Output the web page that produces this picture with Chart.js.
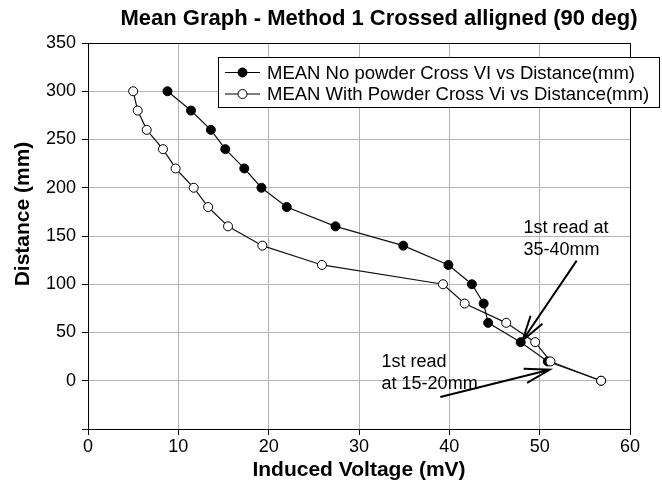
<!DOCTYPE html>
<html>
<head>
<meta charset="utf-8">
<script src="https://cdn.jsdelivr.net/npm/chart.js@4.4.1/dist/chart.umd.min.js"></script>
<style>
  html, body { margin: 0; padding: 0; background: #fff; }
  #wrap { width: 662px; height: 486px; }
</style>
</head>
<body>
<div id="wrap"><canvas id="meanChart" width="662" height="486"></canvas></div>
<script>
// Chart values
const chartTitle = 'Mean Graph - Method 1 Crossed alligned (90 deg)';
const yTitle = 'Distance (mm)';
const distanceMM = [300, 280, 260, 240, 220, 200, 180, 160, 140, 120, 100, 80, 60, 40, 20, 0];
const noPowderMV = [8.8, 11.4, 13.6, 15.2, 17.3, 19.2, 22.0, 27.4, 34.9, 39.9, 42.5, 43.8, 44.3, 47.9, 50.9, 56.8];
const withPowderMV = [5.0, 5.5, 6.5, 8.3, 9.7, 11.7, 13.3, 15.5, 19.3, 25.9, 39.3, 41.7, 46.3, 49.5, 51.2, 56.8];
const seriesLabels = ['MEAN No powder Cross VI vs Distance(mm)', 'MEAN With Powder Cross Vi vs Distance(mm)'];
const xTicks = [0, 10, 20, 30, 40, 50, 60];
const yTicks = [0, 50, 100, 150, 200, 250, 300, 350];

// Notes and arrows, in data units (mV, mm)
const noteTexts = [['1st read at', '35-40mm'], ['1st read', 'at 15-20mm']];
const noteAnchors = [[48.2, 158], [32.5, 19]];
const arrowFrom = [[54.1, 124.5], [39.0, -16.9]];
const arrowTo = [[48.1, 41.7], [51.1, 11.4]];

const FONT = "'Liberation Sans', Arial, sans-serif";

function toPoints(xs) {
    return xs.map((x, i) => ({ x: x, y: distanceMM[i] }));
}

// chart title (a bit right of centre) and the y axis title (a bit above centre)
const titlePlugin = {
    id: 'titlePlugin',
    afterDraw(chart) {
        const ctx = chart.ctx;
        ctx.save();
        ctx.fillStyle = '#000';
        ctx.textAlign = 'center';
        ctx.textBaseline = 'middle';
        ctx.font = 'bold 22px ' + FONT;
        ctx.fillText(chartTitle, 379, 19);
        ctx.translate(23, 214);
        ctx.rotate(-Math.PI / 2);
        ctx.font = 'bold 21px ' + FONT;
        ctx.fillText(yTitle, 0, 0);
        ctx.restore();
    }
};

// boxed legend in the top right corner
const legendBox = {
    id: 'legendBox',
    afterDraw(chart) {
        const ctx = chart.ctx;
        ctx.save();
        ctx.fillStyle = '#fff';
        ctx.strokeStyle = '#000';
        ctx.lineWidth = 1;
        ctx.fillRect(218.5, 57.5, 441, 50);
        ctx.strokeRect(218.5, 57.5, 441, 50);
        chart.data.datasets.forEach((ds, i) => {
            const y = 72.5 + i * 21.5;
            ctx.strokeStyle = '#000';
            ctx.lineWidth = 1.2;
            ctx.beginPath();
            ctx.moveTo(225, y);
            ctx.lineTo(260, y);
            ctx.stroke();
            ctx.beginPath();
            ctx.arc(242.5, y, 4.5, 0, Math.PI * 2);
            ctx.fillStyle = ds.pointBackgroundColor;
            ctx.fill();
            ctx.lineWidth = 1;
            ctx.stroke();
            ctx.fillStyle = '#000';
            ctx.font = '18.5px ' + FONT;
            ctx.textBaseline = 'middle';
            ctx.textAlign = 'left';
            ctx.fillText(ds.label, 267, y + 1);
        });
        ctx.restore();
    }
};

function drawArrow(ctx, x1, y1, x2, y2) {
    const ang = Math.atan2(y1 - y2, x1 - x2);
    const len = 26, spread = 16 * Math.PI / 180;
    ctx.beginPath();
    ctx.moveTo(x1, y1);
    ctx.lineTo(x2, y2);
    ctx.moveTo(x2 + len * Math.cos(ang - spread), y2 + len * Math.sin(ang - spread));
    ctx.lineTo(x2, y2);
    ctx.lineTo(x2 + len * Math.cos(ang + spread), y2 + len * Math.sin(ang + spread));
    ctx.stroke();
}

const notesPlugin = {
    id: 'notesPlugin',
    afterDatasetsDraw(chart) {
        const ctx = chart.ctx;
        const xs = chart.scales.x, ys = chart.scales.y;
        ctx.save();
        ctx.fillStyle = '#000';
        ctx.font = '18px ' + FONT;
        ctx.textAlign = 'left';
        ctx.textBaseline = 'middle';
        noteTexts.forEach((lines, i) => {
            const px = xs.getPixelForValue(noteAnchors[i][0]);
            const py = ys.getPixelForValue(noteAnchors[i][1]);
            lines.forEach((t, j) => ctx.fillText(t, px, py + j * 22));
        });
        ctx.strokeStyle = '#000';
        ctx.lineWidth = 2;
        arrowFrom.forEach((f, i) => {
            drawArrow(ctx,
                xs.getPixelForValue(f[0]), ys.getPixelForValue(f[1]),
                xs.getPixelForValue(arrowTo[i][0]), ys.getPixelForValue(arrowTo[i][1]));
        });
        ctx.restore();
    }
};

const gridGrey = '#b4b4b4';

new Chart(document.getElementById('meanChart').getContext('2d'), {
    type: 'line',
    data: {
        datasets: [{
            label: seriesLabels[0],
            data: toPoints(noPowderMV),
            borderColor: '#111',
            borderWidth: 1.2,
            pointRadius: 4.5,
            pointBackgroundColor: '#000',
            pointBorderColor: '#000',
            pointBorderWidth: 1,
            fill: false,
            tension: 0,
            order: 1,
        }, {
            label: seriesLabels[1],
            data: toPoints(withPowderMV),
            borderColor: '#111',
            borderWidth: 1.2,
            pointRadius: 4.5,
            pointBackgroundColor: '#fff',
            pointBorderColor: '#000',
            pointBorderWidth: 1,
            fill: false,
            tension: 0,
            order: 0,
        }]
    },
    options: {
        responsive: false,
        animation: false,
        layout: { padding: { top: 43, right: 32, left: 0, bottom: 0 } },
        plugins: {
            legend: { display: false },
            title: { display: false },
            tooltip: { enabled: false },
        },
        scales: {
            x: {
                type: 'linear',
                min: 0,
                max: 60,
                afterFit(scale) { scale.height = 57; },
                afterBuildTicks(scale) { scale.ticks = xTicks.map(v => ({ value: v })); },
                ticks: { color: '#000', font: { family: FONT, size: 18 }, padding: 1 },
                grid: {
                    color: ctx => (ctx.tick && ctx.tick.value === 60 ? '#000' : gridGrey),
                    tickColor: '#000',
                    tickLength: 6,
                },
                border: { display: true, color: '#000', width: 1 },
                title: {
                    display: true,
                    text: 'Induced Voltage (mV)',
                    color: '#000',
                    font: { family: FONT, size: 21, weight: 'bold' },
                    padding: { top: 0, bottom: 3 },
                },
            },
            y: {
                type: 'linear',
                min: -50,
                max: 350,
                afterFit(scale) { scale.width = 88; },
                afterBuildTicks(scale) { scale.ticks = [-50].concat(yTicks).map(v => ({ value: v })); },
                ticks: {
                    color: '#000',
                    font: { family: FONT, size: 18 },
                    padding: 6,
                    callback: v => (v < 0 ? '' : v),
                },
                grid: {
                    color: ctx => (ctx.tick && ctx.tick.value === 350 ? '#000' : gridGrey),
                    tickColor: '#000',
                    tickLength: 6,
                },
                border: { display: true, color: '#000', width: 1 },
                title: { display: false },
            },
        },
    },
    plugins: [notesPlugin, legendBox, titlePlugin],
});
</script>
</body>
</html>
